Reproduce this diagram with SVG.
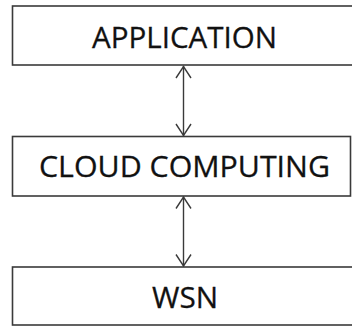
<svg xmlns="http://www.w3.org/2000/svg" width="352" height="326" viewBox="0 0 352 326">
  <style>
    .box { fill: #ffffff; stroke: #3a3a3a; stroke-width: 1.6; }
    .label { font-family: "Open Sans", "Liberation Sans", sans-serif; font-size: 30px; fill: #111111; text-anchor: middle; stroke: #111111; stroke-width: 0.3; }
    .conn { stroke: #3a3a3a; stroke-width: 1.4; fill: none; }
  </style>
  <rect width="352" height="326" fill="#ffffff"/>
  <g id="connectors">
    <line class="conn" x1="183.5" y1="66" x2="183.5" y2="136"/>
    <polyline class="conn" points="176,78 183.5,66.5 191,78"/>
    <polyline class="conn" points="176,124 183.5,135.5 191,124"/>
    <line class="conn" x1="183.5" y1="196.5" x2="183.5" y2="266.5"/>
    <polyline class="conn" points="176,208.5 183.5,197 191,208.5"/>
    <polyline class="conn" points="176,254.5 183.5,266 191,254.5"/>
  </g>
  <g id="application">
    <rect class="box" x="12.5" y="6" width="342" height="59"/>
    <text class="label" x="184.5" y="48" textLength="185" lengthAdjust="spacingAndGlyphs">APPLICATION</text>
  </g>
  <g id="cloud-computing">
    <rect class="box" x="12.5" y="136.5" width="338" height="59.5"/>
    <text class="label" x="184.5" y="176.5" textLength="291" lengthAdjust="spacingAndGlyphs">CLOUD COMPUTING</text>
  </g>
  <g id="wsn">
    <rect class="box" x="12.5" y="267" width="342" height="58"/>
    <text class="label" x="185" y="307.5" textLength="66" lengthAdjust="spacingAndGlyphs">WSN</text>
  </g>
</svg>
